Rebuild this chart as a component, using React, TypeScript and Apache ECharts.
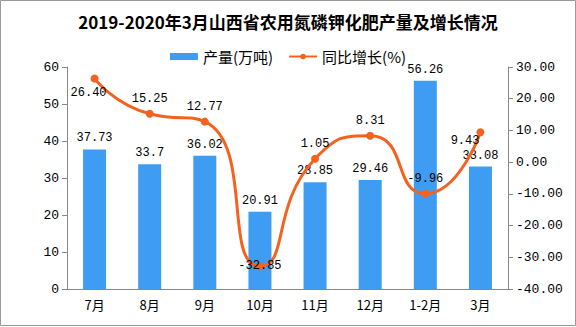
import React, { useEffect, useRef } from "react";
import * as echarts from "echarts";

const categories = ["7月", "8月", "9月", "10月", "11月", "12月", "1-2月", "3月"];
const output = [37.73, 33.7, 36.02, 20.91, 28.85, 29.46, 56.26, 33.08];
const growth = [26.4, 15.25, 12.77, -32.85, 1.05, 8.31, -9.96, 9.43];
const growthLabels = ["26.40", "15.25", "12.77", "-32.85", "1.05", "8.31", "-9.96", "9.43"];
const outputLabels = ["37.73", "33.7", "36.02", "20.91", "28.85", "29.46", "56.26", "33.08"];

const MONO = "'Liberation Mono', 'DejaVu Sans Mono', monospace";
const CJK = "'Noto Sans CJK SC', sans-serif";

export default function App() {
  const ref = useRef<HTMLDivElement>(null);
  useEffect(() => {
    document.body.style.margin = "0";
    const chart = echarts.init(ref.current!, null, { renderer: "svg" });
    const labelPos: any[] = [
      { position: "bottom", offset: [-6, 0] },
      { position: "top" },
      { position: "top" },
      { position: "inside" },
      { position: "top" },
      { position: "top" },
      { position: "top" },
      { position: "left", offset: [8, 9] },
    ];
    chart.setOption({
      animation: false,
      backgroundColor: "#fff",
      title: {
        text: "2019-2020年3月山西省农用氮磷钾化肥产量及增长情况",
        left: "center",
        top: 8,
        textStyle: { fontFamily: CJK, fontSize: 17, fontWeight: "bold", color: "#000" },
      },
      legend: {
        top: 44,
        left: "center",
        itemWidth: 28,
        itemHeight: 7,
        itemGap: 15,
        textStyle: { fontFamily: CJK, fontSize: 15, color: "#000" },
        data: [
          { name: "产量(万吨)", icon: "rect" },
          { name: "同比增长(%)" },
        ],
      },
      graphic: [
        {
          type: "rect",
          shape: { x: 0.5, y: 0.5, width: 575, height: 325 },
          style: { fill: "none", stroke: "#999", lineWidth: 1 },
          silent: true,
        },
      ],
      grid: { left: 67, right: 68, top: 67, bottom: 38 },
      xAxis: {
        type: "category",
        data: categories,
        axisLine: { lineStyle: { color: "#888" } },
        axisTick: { length: 5, lineStyle: { color: "#888" } },
        axisLabel: { fontFamily: CJK, fontSize: 13, color: "#000", margin: 9 },
      },
      yAxis: [
        {
          type: "value",
          min: 0,
          max: 60,
          interval: 10,
          splitLine: { show: false },
          axisLine: { show: true, lineStyle: { color: "#888" } },
          axisTick: { show: true, length: 5, lineStyle: { color: "#888" } },
          axisLabel: { fontFamily: MONO, fontSize: 13, color: "#000", margin: 8 },
        },
        {
          type: "value",
          min: -40,
          max: 30,
          interval: 10,
          splitLine: { show: false },
          axisLine: { show: true, lineStyle: { color: "#888" } },
          axisTick: { show: true, length: 5, lineStyle: { color: "#888" } },
          axisLabel: {
            fontFamily: MONO,
            fontSize: 13,
            color: "#000",
            margin: 8,
            formatter: (v: number) => v.toFixed(2),
          },
        },
      ],
      series: [
        {
          name: "产量(万吨)",
          type: "bar",
          data: output,
          barWidth: 23,
          itemStyle: { color: "#3E9DF2" },
          label: {
            show: true,
            position: "top",
            fontFamily: MONO,
            fontSize: 12,
            color: "#000",
            formatter: (p: any) => outputLabels[p.dataIndex],
          },
        },
        {
          name: "同比增长(%)",
          type: "line",
          yAxisIndex: 1,
          smooth: 0.6,
          data: growth.map((v, i) => ({
            value: v,
            label: { ...labelPos[i] },
          })),
          symbol: "circle",
          symbolSize: 8,
          lineStyle: { color: "#F5621F", width: 3 },
          itemStyle: { color: "#F5621F" },
          label: {
            show: true,
            fontFamily: MONO,
            fontSize: 12,
            color: "#000",
            formatter: (p: any) => growthLabels[p.dataIndex],
          },
        },
      ],
    });
    return () => chart.dispose();
  }, []);
  return <div ref={ref} style={{ width: 576, height: 327 }} />;
}
